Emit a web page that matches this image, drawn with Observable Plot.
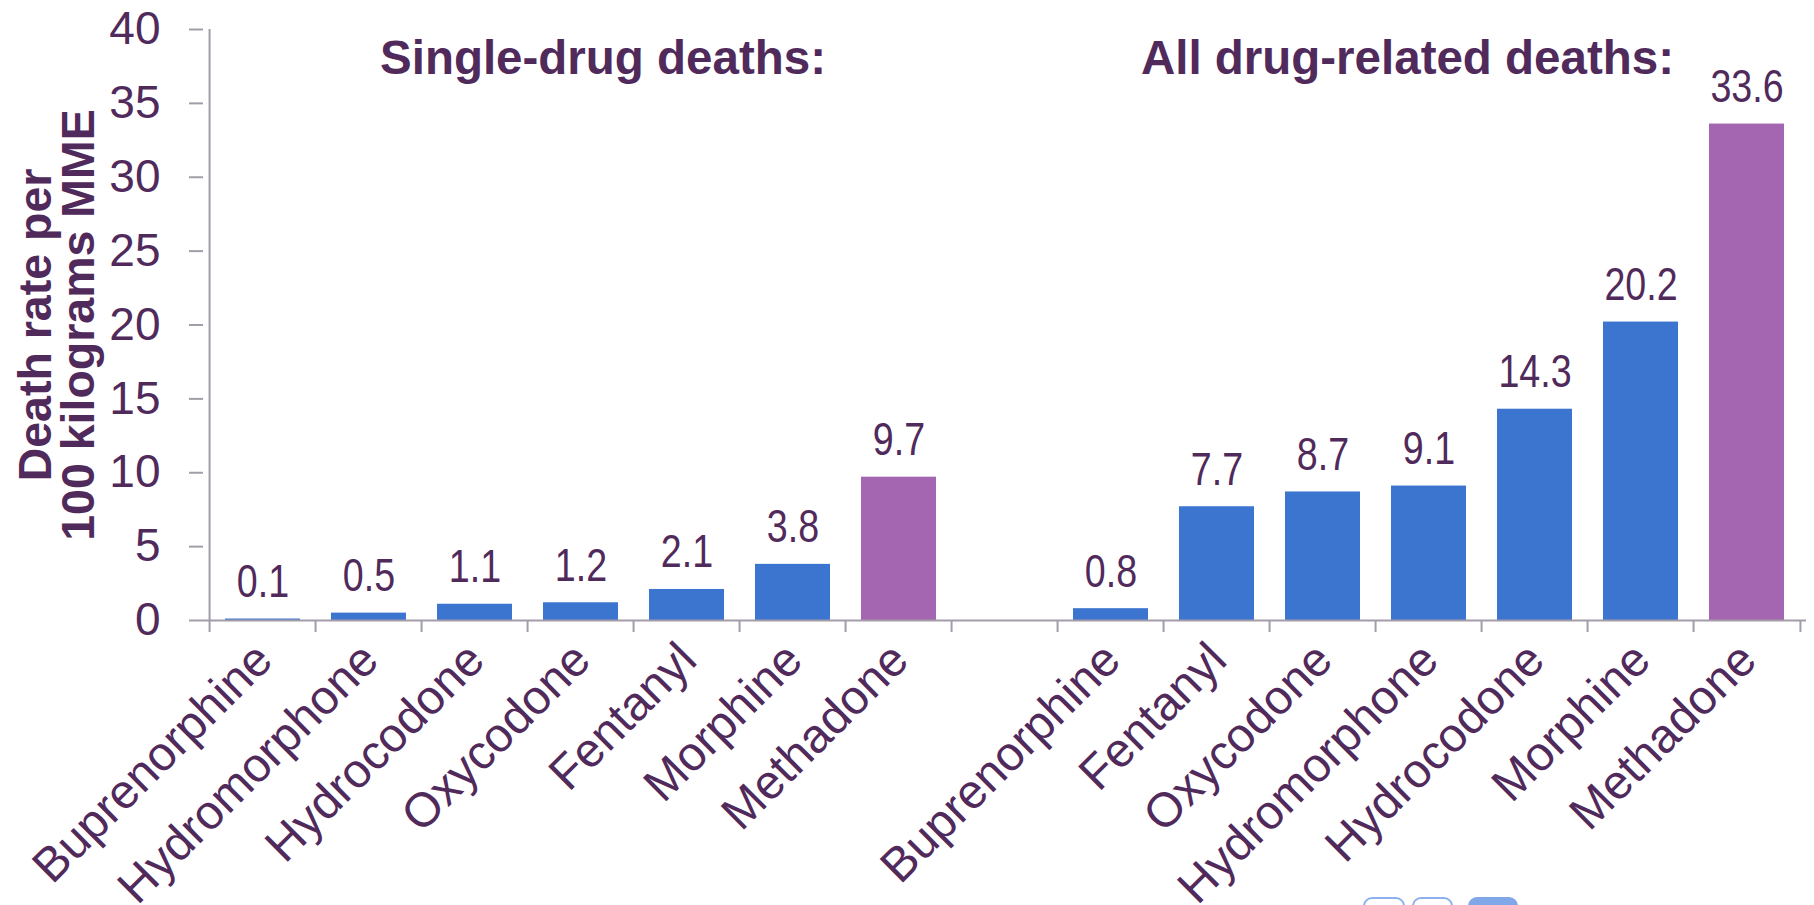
<!DOCTYPE html>
<html>
<head>
<meta charset="utf-8">
<script src="https://cdn.jsdelivr.net/npm/d3@7"></script>
<script src="https://cdn.jsdelivr.net/npm/@observablehq/plot@0.6"></script>
<style>
  html, body { margin: 0; padding: 0; background: #ffffff; overflow: hidden; }
  #wrap { position: relative; width: 1814px; height: 905px; overflow: hidden; }
  #wrap svg { display: block; }
  .btn { position: absolute; top: 897px; height: 40px; border-radius: 9px; box-sizing: border-box; border: 2px solid #8fb0ea; background: #ffffff; }
  .btn.on { background: #80a8e8; border-color: #80a8e8; }
</style>
</head>
<body>
<div id="wrap"></div>
<script>
// ---- data ----
const singleDrugs = ["Buprenorphine", "Hydromorphone", "Hydrocodone", "Oxycodone", "Fentanyl", "Morphine", "Methadone"];
const singleRates = [0.1, 0.5, 1.1, 1.2, 2.1, 3.8, 9.7];
const allDrugs = ["Buprenorphine", "Fentanyl", "Oxycodone", "Hydromorphone", "Hydrocodone", "Morphine", "Methadone"];
const allRates = [0.8, 7.7, 8.7, 9.1, 14.3, 20.2, 33.6];
const groupTitles = ["Single-drug deaths:", "All drug-related deaths:"];
const yTicks = [0, 5, 10, 15, 20, 25, 30, 35, 40];
const yTitle = ["Death rate per", "100 kilograms MME"];
const highlightDrug = "Methadone";

// ---- styling ----
const textColor = "#512a5c";
const blue = "#3c75d0";
const purple = "#a566b1";
const grey = "#a39ca9";
const regular = "'Liberation Sans', Arial, Helvetica, sans-serif";

const W = 1814, H = 905;
const mL = 203, mR = 8, mT = 29, mB = 285;

// build table from the arrays
const rows = [];
singleDrugs.forEach((d, i) => rows.push({key: "S" + i, drug: d, rate: singleRates[i], group: 0}));
const gapKey = "gap";
allDrugs.forEach((d, i) => rows.push({key: "A" + i, drug: d, rate: allRates[i], group: 1}));
const domain = [...singleDrugs.map((d, i) => "S" + i), gapKey, ...allDrugs.map((d, i) => "A" + i)];
const step = (W - mL - mR) / domain.length;

const titles = groupTitles.map((t, g) => ({title: t, key: g === 0 ? "S5" : "A5"}));

const chart = Plot.plot({
  width: W,
  height: H,
  marginLeft: mL,
  marginRight: mR,
  marginTop: mT,
  marginBottom: mB,
  style: {fontFamily: regular, background: "transparent", color: textColor},
  x: {domain, paddingInner: 0.29, paddingOuter: 0.145, axis: null},
  y: {domain: [0, 40], axis: null},
  marks: [
    Plot.barY(rows, {x: "key", y: "rate", fill: d => d.drug === highlightDrug ? purple : blue}),
    // axis lines
    Plot.ruleY([0], {stroke: grey, strokeWidth: 2}),
    Plot.ruleX([domain[0]], {dx: -step / 2, stroke: grey, strokeWidth: 2}),
    // category boundary ticks
    Plot.ruleX(domain, {y: 0, dx: -step / 2, insetBottom: -12, stroke: grey, strokeWidth: 2}),
    Plot.ruleX([domain[domain.length - 1]], {y: 0, dx: step / 2, insetBottom: -12, stroke: grey, strokeWidth: 2}),
    // y axis ticks + labels
    Plot.axisY({ticks: yTicks, label: null, tickSize: 14, tickPadding: 29, fontSize: 46, stroke: grey, strokeWidth: 2, fill: textColor, tickFormat: d => String(d)}),
    // y axis title
    Plot.text([yTitle.join("\n")], {frameAnchor: "left", rotate: -90, dx: -110, lineAnchor: "bottom", lineHeight: 0.925, fontWeight: "bold", fontSize: 46.5, fill: textColor, textAnchor: "middle"}),
    // value labels (condensed afterwards)
    Plot.text(rows, {x: "key", y: "rate", text: d => d.rate.toFixed(1), dy: -22, lineAnchor: "bottom", fontSize: 47, fill: textColor, ariaDescription: "value-labels"}),
    // category labels
    Plot.text(rows, {x: "key", frameAnchor: "bottom", text: "drug", rotate: -45, textAnchor: "end", lineAnchor: "bottom", dx: 12, dy: 42, fontSize: 48, fill: textColor}),
    // group titles
    Plot.text(titles, {x: "key", frameAnchor: "top", text: "title", textAnchor: "end", lineAnchor: "bottom", dx: 33, dy: 44, fontWeight: "bold", fontSize: 47.5, fill: textColor})
  ]
});

// the value labels use a narrow face in the reference: condense them horizontally
chart.querySelectorAll('g[aria-description="value-labels"] text').forEach(t => {
  const tr = t.getAttribute("transform") || "";
  t.setAttribute("transform", tr + " scale(0.8,1)");
});

const wrap = document.getElementById("wrap");
wrap.appendChild(chart);

// partially visible slide-control buttons at the bottom edge
[[1363, 42, false], [1412, 41, false], [1468, 50, true]].forEach(([left, w, on]) => {
  const b = document.createElement("div");
  b.className = "btn" + (on ? " on" : "");
  b.style.left = left + "px";
  b.style.width = w + "px";
  wrap.appendChild(b);
});
</script>
</body>
</html>
